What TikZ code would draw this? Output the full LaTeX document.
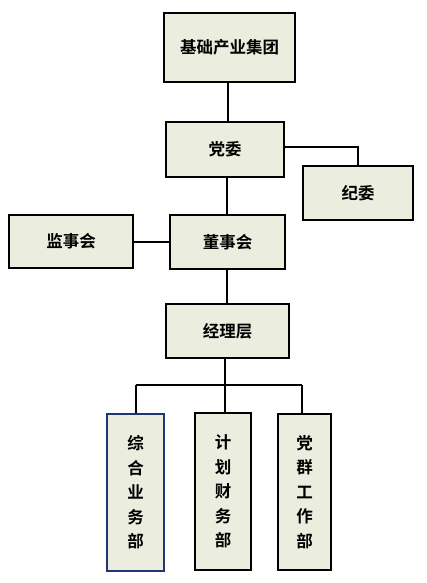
\documentclass[tikz,border=0pt]{standalone}
\usepackage{fontspec}
\newfontfamily\cjk{Noto Sans CJK SC}[BoldFont={* Bold}]
\definecolor{boxfill}{HTML}{EBEEDF}
\definecolor{navy}{HTML}{1F3673}
\begin{document}
\begin{tikzpicture}[x=1pt,y=-1pt,
  box/.style={draw=black,fill=boxfill,line width=2pt,inner sep=0pt,font=\cjk\bfseries\fontsize{16.5}{20}\selectfont},
  vbox/.style={box,align=center,font=\cjk\bfseries\fontsize{16.5}{24.5}\selectfont},
  conn/.style={line width=2pt,black}]
\useasboundingbox (0,0) rectangle (426,583);
\node[box,minimum width=131pt,minimum height=69pt] (top) at (229.5,47.5) {基础产业集团};
\node[box,minimum width=118pt,minimum height=55pt] (dw) at (225,149.5) {党委};
\node[box,minimum width=110pt,minimum height=54pt] (jw) at (358,193) {纪委};
\node[box,minimum width=124pt,minimum height=53pt] (js) at (71,241.5) {监事会};
\node[box,minimum width=115pt,minimum height=54pt] (ds) at (227.5,242) {董事会};
\node[box,minimum width=123pt,minimum height=54pt] (jl) at (227.5,331) {经理层};
\node[vbox,draw=navy,minimum width=57pt,minimum height=157pt] (zh) at (135.5,492.5) {综\\合\\业\\务\\部};
\node[vbox,minimum width=56pt,minimum height=157pt] (jh) at (223,491.5) {计\\划\\财\\务\\部};
\node[vbox,minimum width=53pt,minimum height=156pt] (dq) at (304.5,492) {党\\群\\工\\作\\部};
\coordinate (bus) at (225,385);
\draw[conn] (top.south -| 228,0) -- (dw.north -| 228,0);
\draw[conn] (dw.south -| 227,0) -- (ds.north -| 227,0);
\draw[conn] (dw.east |- 0,147) -| (jw.north);
\draw[conn] (js.east) -- (ds.west |- js.east);
\draw[conn] (ds.south -| 227,0) -- (jl.north -| 227,0);
\draw[conn] (jl.south -| 225,0) -- (jh.north -| 225,0);
\draw[conn] (bus -| zh.north) -- (bus -| 302,0);
\draw[conn] (bus -| zh.north) -- (zh.north);
\draw[conn] (bus -| 302,0) -- (dq.north -| 302,0);
\end{tikzpicture}
\end{document}
